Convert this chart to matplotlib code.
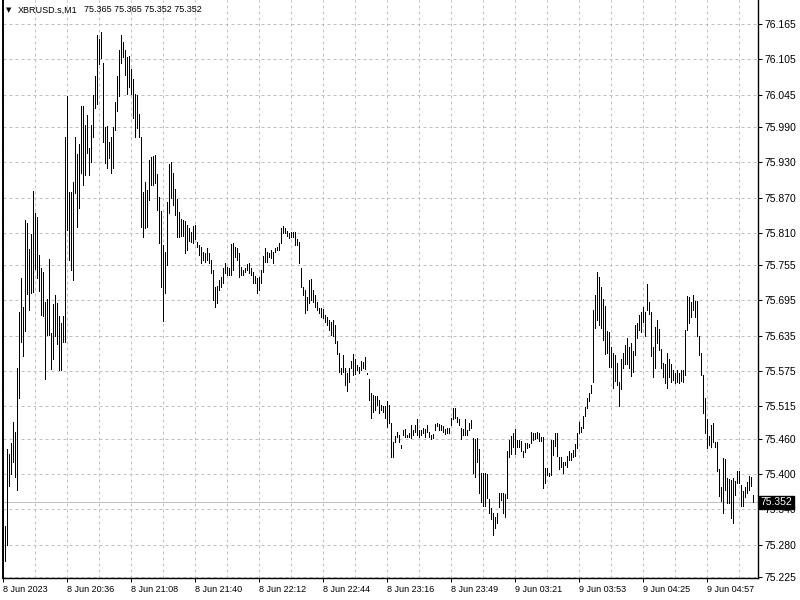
import matplotlib
matplotlib.use('Agg')
import matplotlib.pyplot as plt
import matplotlib.transforms as mtrans
import numpy as np

plt.rcParams['font.family'] = ['Liberation Sans', 'DejaVu Sans']

symbol = 'XBRUSD.s,M1'

# one-minute bars, high / low per bar (bar 0 = left edge)
bar_high = [
    75.409, 75.312, 75.443, 75.434, 75.453, 75.489, 75.472, 75.580, 75.676, 75.733,
    75.684, 75.832, 75.827, 75.783, 75.808, 75.881, 75.844, 75.837, 75.773, 75.750,
    75.744, 75.693, 75.698, 75.766, 75.640, 75.689, 75.705, 75.691, 75.669, 75.657,
    75.669, 75.973, 76.043, 75.880, 75.880, 75.897, 75.973, 75.944, 75.961, 76.026,
    76.026, 75.994, 76.011, 75.954, 75.994, 76.045, 76.077, 76.147, 76.140, 76.152,
    76.099, 75.990, 75.992, 75.965, 75.973, 75.990, 76.033, 76.077, 76.121, 76.147,
    76.135, 76.121, 76.109, 76.111, 76.089, 76.072, 76.046, 76.045, 76.012, 75.973,
    75.880, 75.897, 75.883, 75.934, 75.939, 75.941, 75.942, 75.910, 75.871, 75.847,
    75.790, 75.778, 75.863, 75.927, 75.931, 75.912, 75.885, 75.868, 75.846, 75.834,
    75.832, 75.830, 75.824, 75.818, 75.812, 75.822, 75.824, 75.795, 75.790, 75.786,
    75.778, 75.776, 75.784, 75.776, 75.764, 75.747, 75.718, 75.720, 75.730, 75.735,
    75.750, 75.759, 75.752, 75.750, 75.791, 75.793, 75.786, 75.784, 75.776, 75.752,
    75.747, 75.750, 75.757, 75.759, 75.750, 75.744, 75.737, 75.733, 75.735, 75.747,
    75.771, 75.784, 75.778, 75.776, 75.781, 75.778, 75.784, 75.786, 75.793, 75.818,
    75.822, 75.818, 75.813, 75.810, 75.812, 75.812, 75.812, 75.800, 75.795, 75.750,
    75.718, 75.713, 75.701, 75.730, 75.732, 75.713, 75.705, 75.693, 75.682, 75.682,
    75.681, 75.671, 75.667, 75.662, 75.659, 75.662, 75.654, 75.626, 75.606, 75.580,
    75.603, 75.580, 75.572, 75.580, 75.592, 75.604, 75.596, 75.586, 75.582, 75.592,
    75.591, 75.599, 75.572, 75.562, 75.538, 75.535, 75.533, 75.533, 75.526, 75.518,
    75.516, 75.516, 75.524, 75.518, 75.487, 75.455, 75.465, 75.472, 75.467, 75.450,
    75.475, 75.477, 75.467, 75.470, 75.484, 75.475, 75.484, 75.494, 75.475, 75.475,
    75.478, 75.477, 75.484, 75.472, 75.467, 75.468, 75.485, 75.487, 75.485, 75.484,
    75.482, 75.477, 75.478, 75.478, 75.495, 75.512, 75.512, 75.497, 75.494, 75.478,
    75.477, 75.494, 75.475, 75.487, 75.492, 75.461, 75.460, 75.461, 75.443, 75.402,
    75.402, 75.402, 75.400, 75.358, 75.342, 75.334, 75.327, 75.334, 75.368, 75.368,
    75.368, 75.366, 75.439, 75.458, 75.465, 75.470, 75.477, 75.458, 75.458, 75.456,
    75.439, 75.453, 75.453, 75.451, 75.472, 75.470, 75.470, 75.472, 75.470, 75.463,
    75.463, 75.410, 75.410, 75.402, 75.458, 75.458, 75.470, 75.470, 75.429, 75.429,
    75.421, 75.421, 75.431, 75.439, 75.436, 75.441, 75.451, 75.470, 75.489, 75.480,
    75.499, 75.514, 75.529, 75.538, 75.552, 75.679, 75.705, 75.744, 75.735, 75.718,
    75.698, 75.686, 75.643, 75.642, 75.616, 75.606, 75.603, 75.589, 75.557, 75.596,
    75.606, 75.620, 75.631, 75.616, 75.623, 75.609, 75.654, 75.657, 75.671, 75.676,
    75.684, 75.676, 75.723, 75.693, 75.676, 75.616, 75.650, 75.662, 75.647, 75.613,
    75.589, 75.587, 75.606, 75.596, 75.587, 75.577, 75.572, 75.577, 75.572, 75.577,
    75.577, 75.645, 75.703, 75.701, 75.693, 75.705, 75.694, 75.694, 75.635, 75.606,
    75.569, 75.529, 75.494, 75.465, 75.484, 75.487, 75.455, 75.455, 75.409, 75.378,
    75.427, 75.426, 75.393, 75.392, 75.390, 75.393, 75.388, 75.405, 75.405, 75.382,
    75.371, 75.378, 75.387, 75.397, 75.395, 75.365,
]

bar_low = [
    75.249, 75.252, 75.280, 75.380, 75.400, 75.421, 75.395, 75.373, 75.529, 75.625,
    75.601, 75.643, 75.706, 75.679, 75.708, 75.710, 75.749, 75.733, 75.711, 75.671,
    75.669, 75.562, 75.637, 75.637, 75.579, 75.596, 75.635, 75.621, 75.577, 75.577,
    75.625, 75.625, 75.815, 75.764, 75.747, 75.730, 75.878, 75.820, 75.852, 75.912,
    75.892, 75.909, 75.946, 75.909, 75.931, 75.973, 76.022, 76.029, 76.097, 76.107,
    75.965, 75.929, 75.920, 75.937, 75.912, 75.920, 75.985, 76.017, 76.043, 76.099,
    76.109, 76.079, 76.046, 76.058, 76.046, 76.005, 75.973, 75.988, 75.973, 75.820,
    75.803, 75.818, 75.820, 75.866, 75.892, 75.892, 75.895, 75.849, 75.793, 75.718,
    75.660, 75.708, 75.756, 75.844, 75.869, 75.858, 75.841, 75.803, 75.803, 75.805,
    75.805, 75.776, 75.781, 75.796, 75.795, 75.793, 75.800, 75.786, 75.773, 75.759,
    75.764, 75.761, 75.764, 75.759, 75.742, 75.696, 75.684, 75.691, 75.713, 75.718,
    75.725, 75.742, 75.739, 75.739, 75.739, 75.747, 75.769, 75.764, 75.735, 75.739,
    75.739, 75.744, 75.747, 75.742, 75.739, 75.725, 75.725, 75.708, 75.713, 75.725,
    75.744, 75.761, 75.761, 75.769, 75.767, 75.759, 75.778, 75.781, 75.781, 75.793,
    75.810, 75.810, 75.805, 75.801, 75.803, 75.803, 75.790, 75.790, 75.759, 75.718,
    75.705, 75.674, 75.679, 75.691, 75.696, 75.693, 75.684, 75.679, 75.674, 75.667,
    75.665, 75.659, 75.654, 75.645, 75.637, 75.635, 75.623, 75.604, 75.574, 75.570,
    75.574, 75.552, 75.541, 75.557, 75.580, 75.569, 75.570, 75.577, 75.572, 75.577,
    75.580, 75.579, 75.570, 75.526, 75.495, 75.506, 75.509, 75.518, 75.504, 75.509,
    75.506, 75.495, 75.480, 75.487, 75.429, 75.429, 75.455, 75.463, 75.455, 75.444,
    75.467, 75.463, 75.463, 75.463, 75.461, 75.467, 75.472, 75.467, 75.463, 75.467,
    75.470, 75.463, 75.472, 75.463, 75.460, 75.461, 75.475, 75.482, 75.475, 75.475,
    75.472, 75.468, 75.470, 75.470, 75.484, 75.494, 75.495, 75.489, 75.484, 75.460,
    75.467, 75.467, 75.467, 75.475, 75.478, 75.402, 75.395, 75.421, 75.368, 75.353,
    75.346, 75.346, 75.359, 75.334, 75.324, 75.297, 75.308, 75.317, 75.344, 75.356,
    75.334, 75.327, 75.359, 75.429, 75.434, 75.446, 75.434, 75.446, 75.446, 75.439,
    75.429, 75.438, 75.444, 75.446, 75.453, 75.458, 75.460, 75.461, 75.456, 75.456,
    75.376, 75.385, 75.399, 75.397, 75.399, 75.433, 75.448, 75.431, 75.409, 75.412,
    75.402, 75.416, 75.412, 75.424, 75.424, 75.429, 75.431, 75.444, 75.470, 75.472,
    75.478, 75.499, 75.512, 75.524, 75.538, 75.557, 75.648, 75.662, 75.654, 75.648,
    75.628, 75.604, 75.606, 75.582, 75.582, 75.546, 75.558, 75.552, 75.516, 75.545,
    75.580, 75.587, 75.587, 75.580, 75.567, 75.574, 75.603, 75.631, 75.645, 75.642,
    75.659, 75.635, 75.679, 75.672, 75.601, 75.565, 75.580, 75.623, 75.611, 75.580,
    75.565, 75.555, 75.546, 75.565, 75.557, 75.560, 75.555, 75.557, 75.555, 75.558,
    75.557, 75.569, 75.645, 75.657, 75.667, 75.679, 75.667, 75.635, 75.603, 75.569,
    75.504, 75.470, 75.444, 75.450, 75.446, 75.455, 75.446, 75.405, 75.363, 75.354,
    75.334, 75.373, 75.351, 75.351, 75.325, 75.317, 75.365, 75.385, 75.385, 75.346,
    75.346, 75.361, 75.368, 75.373, 75.380, 75.352,
]

# last bar O H L C shown in the header
last_ohlc = [75.365, 75.365, 75.352, 75.352]

price_ticks = [76.165, 76.105, 76.045, 75.990, 75.930, 75.870, 75.810, 75.755, 75.695,
               75.635, 75.575, 75.515, 75.460, 75.400, 75.340, 75.280, 75.225]

time_labels = ['8 Jun 2023', '8 Jun 20:36', '8 Jun 21:08', '8 Jun 21:40', '8 Jun 22:12',
               '8 Jun 22:44', '8 Jun 23:16', '8 Jun 23:49', '9 Jun 03:21', '9 Jun 03:53',
               '9 Jun 04:25', '9 Jun 04:57']
label_step = 32   # bars between time labels
grid_step = 16    # bars between vertical grid lines

grid_col = '#c0c0c0'
fs = 6.5      # time axis / header
fs_y = 7.5    # price axis

fig = plt.figure(figsize=(8, 6), dpi=100)
ax = fig.add_axes([2.5/800, 22/600, 755/800, 578/600])

idx = np.arange(len(bar_high))
ax.vlines(idx, bar_low, bar_high, colors='black', lw=0.72, antialiased=False, zorder=3)

ax.set_xlim(-0.25, 377.25)
ax.set_ylim(75.2232, 76.2058)

# current price line
ax.axhline(last_ohlc[3], color=grid_col, lw=0.72, zorder=1)

ax.set_xticks(np.arange(len(time_labels)) * label_step)
ax.set_xticklabels(time_labels)
ax.set_xticks(np.arange(grid_step, 377, grid_step), minor=True)
for lbl in ax.get_xticklabels():
    lbl.set_horizontalalignment('left')

ax.yaxis.tick_right()
ax.set_yticks(price_ticks)
ax.set_yticklabels(['%.3f' % v for v in price_ticks])

ax.grid(True, which='both', axis='x', color=grid_col, lw=0.72, ls=(0, (3, 3)), zorder=0)
ax.grid(True, which='major', axis='y', color=grid_col, lw=0.72, ls=(0, (3, 3)), zorder=0)
ax.set_axisbelow(True)

ax.tick_params(axis='both', which='major', direction='out', length=3, width=0.72,
               pad=2, colors='black')
ax.tick_params(axis='x', which='major', labelsize=fs)
ax.tick_params(axis='y', which='major', labelsize=fs_y)
ax.tick_params(axis='x', which='minor', length=0)

ax.spines['top'].set_visible(False)
for s in ['left', 'right', 'bottom']:
    ax.spines[s].set_linewidth(1.0)
    ax.spines[s].set_color('black')
ax.spines['left'].set_linewidth(1.4)

# price box on the right axis
trans = mtrans.blended_transform_factory(ax.transAxes, ax.transData)
ax.text(1.0045, last_ohlc[3], '%.3f' % last_ohlc[3], transform=trans, color='white',
        fontsize=fs_y, va='center', ha='left', clip_on=False, zorder=10,
        bbox=dict(boxstyle='square,pad=0.15', fc='black', ec='black'))

# header
fig.text(6/800, 1 - 10/600, '\u25bc', fontsize=5, va='center', ha='left',
         family=['DejaVu Sans'])
fig.text(18/800, 1 - 10/600, symbol, fontsize=fs, va='center', ha='left')
fig.text(84/800, 1 - 10/600, ' '.join('%.3f' % v for v in last_ohlc), fontsize=fs,
         va='center', ha='left')

fig.savefig('out.png', dpi=100)
